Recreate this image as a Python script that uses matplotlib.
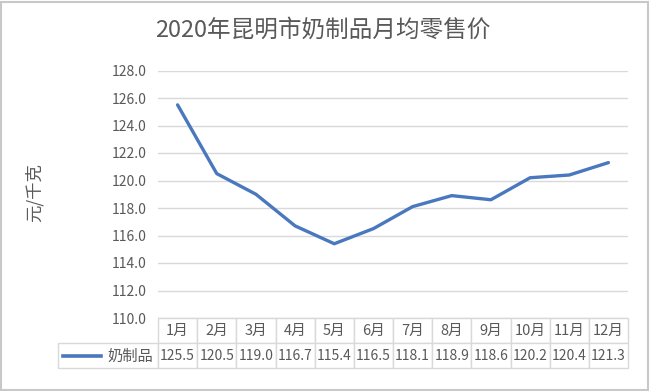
import numpy as np
import matplotlib.pyplot as plt
from matplotlib.lines import Line2D
from matplotlib.patches import Rectangle

plt.rcParams['font.family'] = ['Noto Sans CJK SC', 'DejaVu Sans']

months = ['1月', '2月', '3月', '4月', '5月', '6月', '7月', '8月', '9月', '10月', '11月', '12月']
prices = [125.5, 120.5, 119.0, 116.7, 115.4, 116.5, 118.1, 118.9, 118.6, 120.2, 120.4, 121.3]
series_name = '奶制品'
y_ticks = [110, 112, 114, 116, 118, 120, 122, 124, 126, 128]

W, H = 650, 391
txt = '#595959'
grid = '#d9d9d9'
blue = '#4a78be'

fig = plt.figure(figsize=(W / 100, H / 100), dpi=100)
ax = fig.add_axes([158 / W, 1 - 318 / H, 470 / W, 247.5 / H])

x = np.arange(len(months))
ax.plot(x, prices, color=blue, lw=2.4, solid_capstyle='round')
ax.set_xlim(-0.5, len(months) - 0.5)
ax.set_ylim(110, 128)
ax.set_yticks(y_ticks)
ax.set_yticklabels([f'{v:.1f}' for v in y_ticks], color=txt, fontsize=10)
ax.tick_params(axis='y', length=0, pad=8)
ax.set_xticks([])
ax.grid(axis='y', color=grid, lw=1)
for s in ax.spines.values():
    s.set_visible(False)

# data table under the plot
cells = [[''] + months, [''] + [f'{v:.1f}' for v in prices]]
lw_col = 100 / 470
tb = ax.table(cellText=cells, cellLoc='center',
              bbox=[-lw_col, -50 / 247.5, 1 + lw_col, 50 / 247.5],
              colWidths=[lw_col] + [1 / 12] * 12)
tb.auto_set_font_size(False)
for (r, c), cell in tb.get_celld().items():
    cell.set_edgecolor(grid)
    cell.set_linewidth(1)
    cell.get_text().set_color(txt)
    cell.get_text().set_fontsize(10.5 if r == 0 else 10)
    if r == 0 and c == 0:
        cell.visible_edges = ''

fig.add_artist(Line2D([63 / W, 101 / W], [1 - 356 / H] * 2, color=blue, lw=2.6))
fig.text(107 / W, 1 - 356 / H, series_name, color=txt, fontsize=11, va='center')

fig.text(323 / W, 1 - 30 / H, '2020年昆明市奶制品月均零售价', color=txt,
         fontsize=17, ha='center', va='center')
fig.text(34 / W, 1 - 193 / H, '元/千克', color=txt, fontsize=12.5,
         rotation=90, ha='center', va='center')

fig.add_artist(Rectangle((1 / W, 1 / H), 1 - 3 / W, 1 - 3 / H, fill=False,
                         edgecolor='#c8c8c8', lw=1.5, transform=fig.transFigure))

fig.savefig('out.png', dpi=100)
